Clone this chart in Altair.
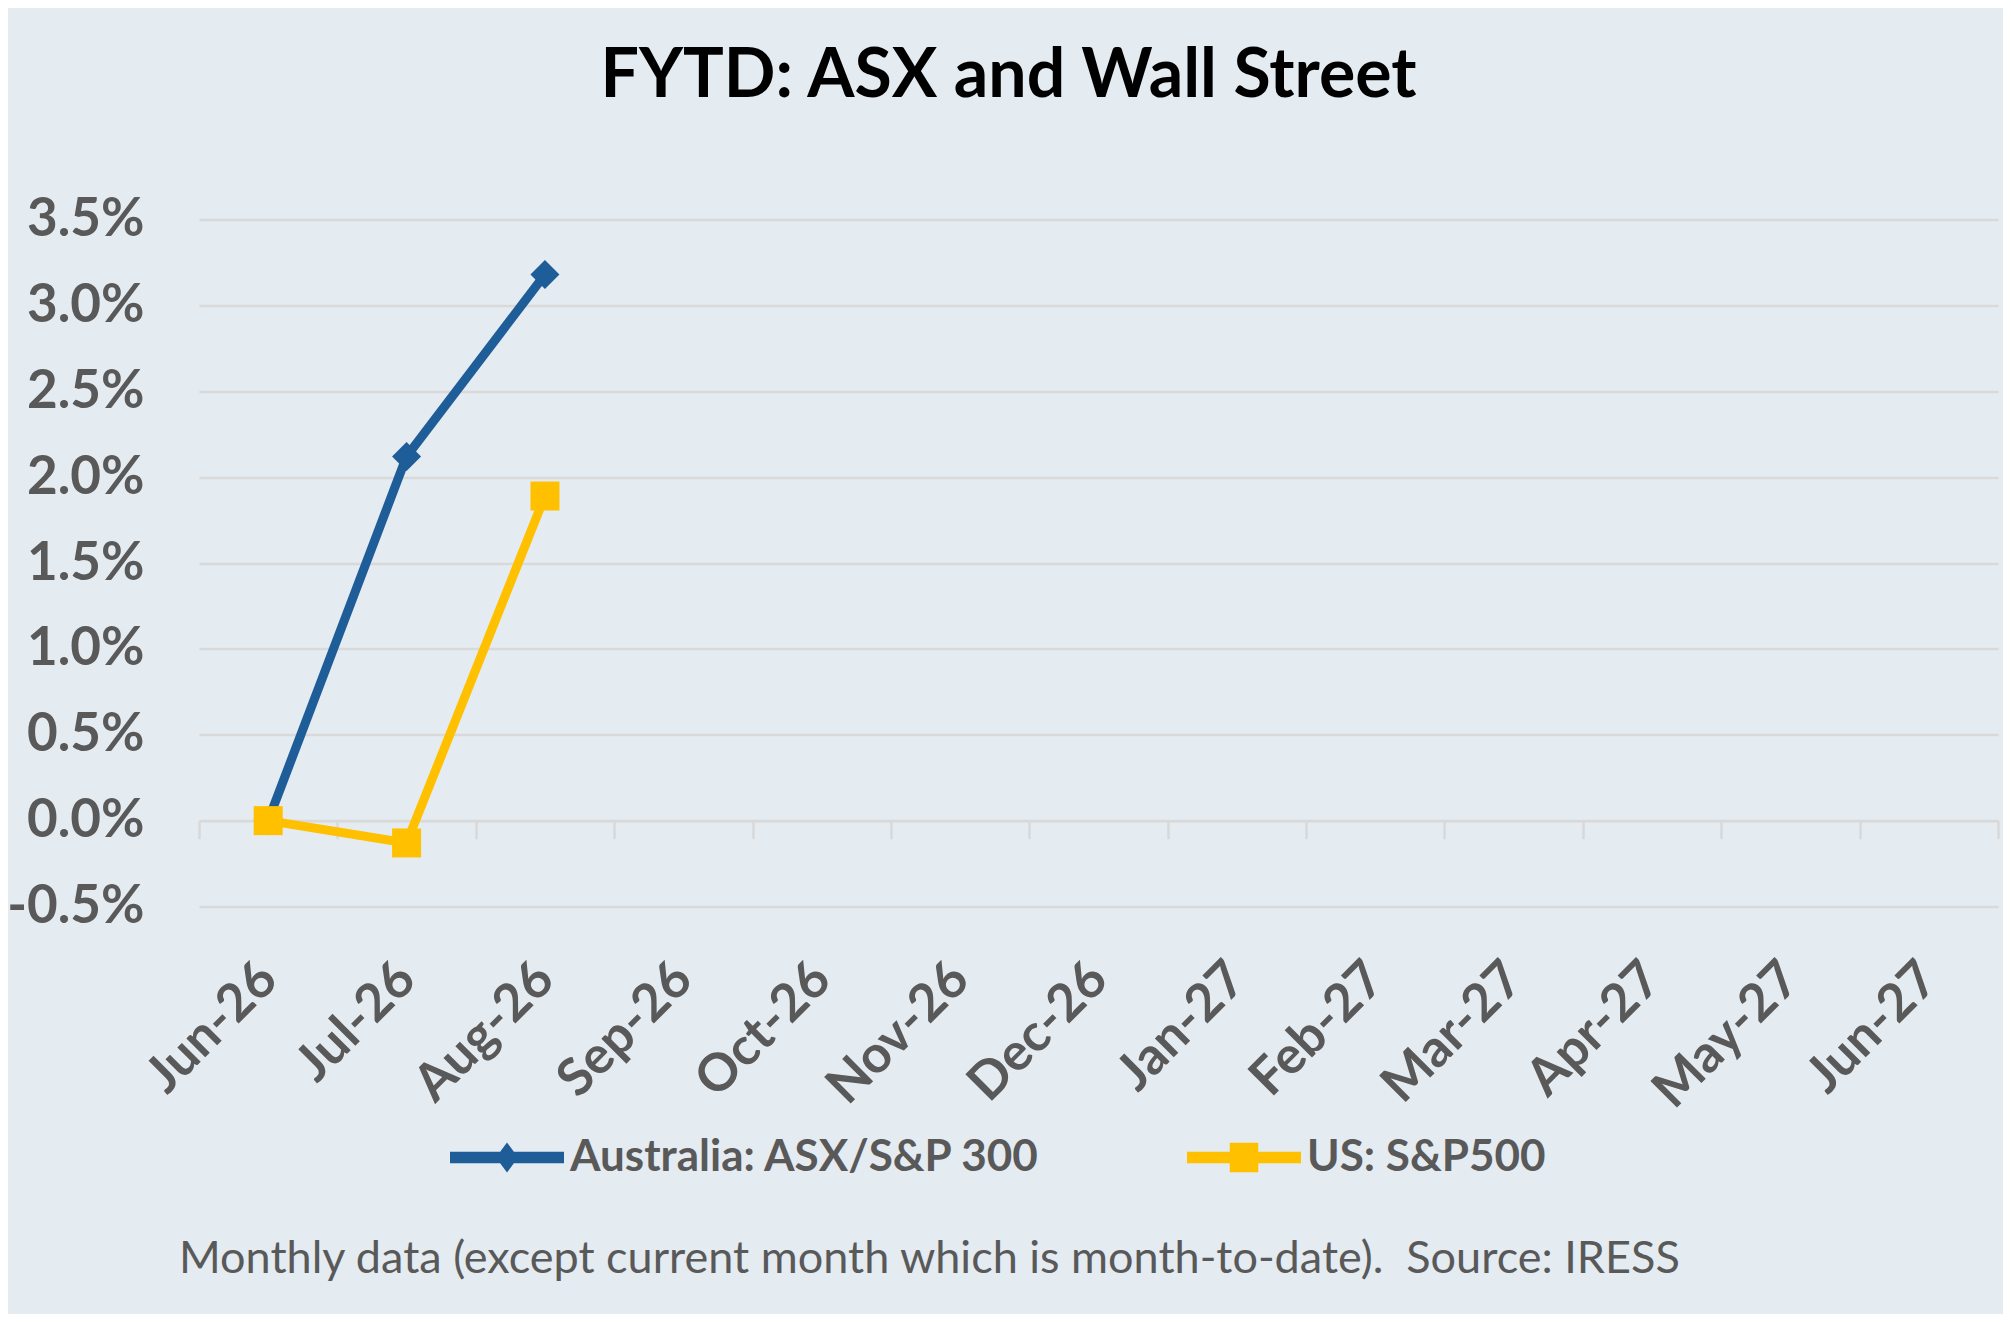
import altair as alt
import pandas as pd

# ---- data ----
months = ["Jun-26", "Jul-26", "Aug-26", "Sep-26", "Oct-26", "Nov-26", "Dec-26",
          "Jan-27", "Feb-27", "Mar-27", "Apr-27", "May-27", "Jun-27"]
series_names = ["Australia: ASX/S&P 300", "US: S&P500"]
asx_months = ["Jun-26", "Jul-26", "Aug-26"]
asx_values = [0.0, 2.12, 3.18]
us_months = ["Jun-26", "Jul-26", "Aug-26"]
us_values = [0.0, -0.13, 1.89]
y_ticks = [-0.5, 0.0, 0.5, 1.0, 1.5, 2.0, 2.5, 3.0, 3.5]
title_text = "FYTD: ASX and Wall Street"
footnote_text = "Monthly data (except current month which is month-to-date).\u00a0 Source: IRESS"

colors = ["#1F5D99", "#FFC000"]

rows = []
for m, v in zip(asx_months, asx_values):
    rows.append({"month": m, "value": v, "series": series_names[0]})
for m, v in zip(us_months, us_values):
    rows.append({"month": m, "value": v, "series": series_names[1]})
df = pd.DataFrame(rows)

W, H = 1799, 687
FONT = "Lato"
GRAY = "#595959"
GRID = "#D9D9D9"
BG = "#E4EBF1"

# legend symbols: bar + marker, in unit coords (-1..1)
leg_diamond = ("M-1,-0.1 L1,-0.1 L1,0.1 L-1,0.1 Z "
               "M0,-0.265 L0.195,0 L0,0.265 L-0.195,0 Z")
leg_square = ("M-1,-0.1 L1,-0.1 L1,0.1 L-1,0.1 Z "
              "M-0.25,-0.26 L0.25,-0.26 L0.25,0.26 L-0.25,0.26 Z")

x_enc = alt.X(
    "month:O",
    sort=months,
    scale=alt.Scale(domain=months, paddingInner=0, paddingOuter=0),
    axis=alt.Axis(
        title=None, orient="bottom", offset=-H / 8,
        domain=True, domainColor=GRID, domainWidth=2.5,
        ticks=True, tickColor=GRID, tickWidth=2.5, tickSize=18, tickBand="extent",
        grid=False,
        labelAngle=-45, labelAlign="right", labelBaseline="middle",
        labelPadding=132, labelFont=FONT, labelFontSize=52, labelFontWeight="bold",
        labelColor=GRAY, labelOverlap=False, labelBound=False, labelLimit=500,
    ),
)
y_enc = alt.Y(
    "value:Q",
    scale=alt.Scale(domain=[-0.5, 3.5], nice=False, zero=False),
    axis=alt.Axis(
        title=None, values=y_ticks, domain=False, ticks=False,
        grid=True, gridColor=GRID, gridWidth=2.5,
        labelExpr="(datum.value < 0 ? '-' : '') + format(abs(datum.value), '.1f') + '%'",
        labelFont=FONT, labelFontSize=53, labelFontWeight="bold", labelColor=GRAY,
        labelPadding=55, labelLimit=500,
    ),
)

base = alt.Chart(df)

lines = base.mark_line(strokeWidth=9).encode(
    x=x_enc,
    y=y_enc,
    color=alt.Color("series:N", scale=alt.Scale(domain=series_names, range=colors), legend=None),
)

points = base.mark_point(filled=True, size=841, opacity=1).encode(
    x=x_enc,
    y=y_enc,
    color=alt.Color("series:N", scale=alt.Scale(domain=series_names, range=colors), legend=None),
    shape=alt.Shape("series:N", scale=alt.Scale(domain=series_names, range=["diamond", "square"]), legend=None),
)

legend_props = dict(
    title=None, orient="none", direction="horizontal",
    legendX=251, legendY=881,
    symbolSize=12996, symbolStrokeWidth=0, symbolOpacity=1,
    labelFont=FONT, labelFontSize=44, labelFontWeight="bold", labelColor=GRAY,
    labelOffset=6, columnPadding=146, labelLimit=1000,
)

legend_layer = base.transform_filter("false").mark_point(filled=True, opacity=1).encode(
    color=alt.Color(
        "series:N",
        scale=alt.Scale(domain=series_names, range=colors),
        legend=alt.Legend(**legend_props),
    ),
    shape=alt.Shape(
        "series:N",
        scale=alt.Scale(domain=series_names, range=[leg_diamond, leg_square]),
        legend=alt.Legend(**legend_props),
    ),
)

note = alt.Chart(pd.DataFrame({"note": [footnote_text]})).mark_text(
    align="left", baseline="alphabetic", font=FONT, fontSize=45, color=GRAY
).encode(
    x=alt.value(-20),
    y=alt.value(1053),
    text="note:N",
)

chart = alt.layer(lines, points, legend_layer, note).resolve_scale(
    color="independent", shape="independent"
).properties(
    width=W,
    height=H,
    background=BG,
    autosize=alt.AutoSizeParams(type="none"),
    padding={"left": 191, "top": 211.5, "right": 5, "bottom": 407},
    title=alt.Title(
        title_text, font=FONT, fontSize=68, fontWeight="bold", color="black",
        anchor="middle", dx=-90, baseline="alphabetic", offset=29,
    ),
).configure_view(stroke=None)

chart.save("out.html", embed_options={"renderer": "svg", "actions": False})
